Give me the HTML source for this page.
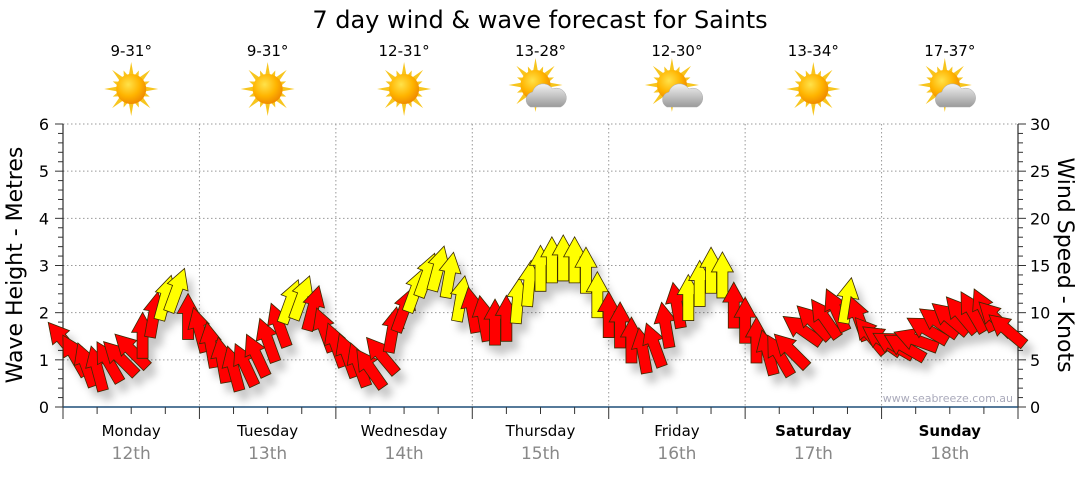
<!DOCTYPE html>
<html><head><meta charset="utf-8"><style>
body{margin:0;background:#fff;width:1080px;height:475px;overflow:hidden;font-family:"Liberation Sans","DejaVu Sans",sans-serif}
svg text{font-family:"DejaVu Sans","Liberation Sans",sans-serif}
</style></head><body>
<svg id="chart" width="1080" height="475" xmlns="http://www.w3.org/2000/svg">
<defs>
<radialGradient id="sunG" cx="40%" cy="35%" r="65%"><stop offset="0" stop-color="#ffe24a"/><stop offset="0.6" stop-color="#ffb400"/><stop offset="1" stop-color="#f08c00"/></radialGradient>
<linearGradient id="cloudG" x1="0" y1="0" x2="0" y2="1"><stop offset="0" stop-color="#f2f2f2"/><stop offset="1" stop-color="#9a9a9a"/></linearGradient>
<filter id="sh" x="-50%" y="-50%" width="200%" height="200%"><feDropShadow dx="6" dy="9" stdDeviation="4" flood-color="#000" flood-opacity="0.22"/></filter>
</defs>
<text x="540" y="28" text-anchor="middle" font-size="24" fill="#000">7 day wind &amp; wave forecast for Saints</text>
<g id="header"></g>
<g id="grid"></g>
<g id="axes"></g>
<g id="arrows" filter="url(#sh)"></g>
<text transform="translate(22,265) rotate(-90)" text-anchor="middle" font-size="22" fill="#000">Wave Height - Metres</text>
<text transform="translate(1058,265) rotate(90)" text-anchor="middle" font-size="22" fill="#000">Wind Speed - Knots</text>
<text x="1013" y="402" text-anchor="end" font-size="11" fill="#aab">www.seabreeze.com.au</text>
</svg>
<script>
const days=["Monday","Tuesday","Wednesday","Thursday","Friday","Saturday","Sunday"];
const dates=["12th","13th","14th","15th","16th","17th","18th"];
const temps=["9-31°","9-31°","12-31°","13-28°","12-30°","13-34°","17-37°"];
const cloudy=[false,false,false,true,true,false,true];
const waveTicks=[0,1,2,3,4,5,6];
const windTicks=[0,5,10,15,20,25,30];
const windSpeed=[
7.1,5.5,4.5,4.1,4.8,5.2,6.0,7.6,9.8,11.6,12.4,9.6,
8.2,6.6,5.0,4.1,4.5,5.5,7.1,8.7,11.2,11.6,10.5,8.2,
6.6,5.5,4.5,4.1,5.5,8.2,10.3,12.4,14.0,14.7,14.0,11.5,
10.3,9.4,9.0,9.4,11.3,13.1,14.7,15.6,15.8,15.6,14.5,11.9,
9.8,8.7,7.1,6.0,6.6,8.7,10.8,11.6,13.1,14.5,14.0,10.8,
9.2,7.1,5.8,5.5,6.0,8.2,9.0,9.4,10.3,11.3,9.4,7.6,
7.1,6.6,6.4,7.1,8.2,9.0,9.4,9.8,10.1,10.3,9.4,8.2];
const windDir=[
-40,-30,-20,-15,-30,-45,-45,0,10,15,20,0,
-15,-10,-10,-15,-25,-25,-20,-20,20,20,15,-20,
-20,-20,-20,-35,-40,10,20,20,20,15,10,10,
-10,-10,0,0,5,5,0,0,0,0,0,0,
0,0,0,-10,-20,-10,-10,0,0,0,0,0,
0,0,-15,-30,-45,-55,-45,-35,-25,10,-20,-40,
-55,-60,-60,-70,-60,-55,-50,-40,-30,-25,-45,-50];
const X0=63,X1=1018,Y0=407,Y1=124,NS="http://www.w3.org/2000/svg";
const dayW=(X1-X0)/7;
function xDay(d){return X0+d*dayW;}
function xPt(i){return X0+i*dayW/12;}
function yWave(m){return Y0-(m/6)*(Y0-Y1);}
function yWind(k){return Y0-(k/30)*(Y0-Y1);}
function el(tag,attrs,parent){const e=document.createElementNS(NS,tag);for(const k in attrs)e.setAttribute(k,attrs[k]);parent.appendChild(e);return e;}
const grid=document.getElementById('grid'),axes=document.getElementById('axes'),hdr=document.getElementById('header'),arr=document.getElementById('arrows');
waveTicks.forEach(m=>{if(m>0){const l=el('line',{x1:X0,x2:X1,y1:yWave(m),y2:yWave(m),stroke:'#999','stroke-dasharray':'1.5,2.5'},grid);

}});
for(let d=1;d<7;d++){const l=el('line',{x1:xDay(d),x2:xDay(d),y1:Y1,y2:Y0,stroke:'#999','stroke-dasharray':'1.5,2.5'},grid);

}
el('line',{x1:X0,x2:X0,y1:Y1,y2:Y0,stroke:'#000'},axes);
el('line',{x1:X1,x2:X1,y1:Y1,y2:Y0,stroke:'#000'},axes);
const xa=el('line',{x1:X0,x2:X1,y1:Y0,y2:Y0,stroke:'#1f4e79','stroke-width':1.5},axes);


for(let i=0;i<=30;i++){const m=i*0.2;el('line',{x1:X0-(i%5==0?8:5),x2:X0,y1:yWave(m),y2:yWave(m),stroke:'#333'},axes);}
for(let k=0;k<=30;k++){el('line',{x1:X1,x2:X1+(k%5==0?8:5),y1:yWind(k),y2:yWind(k),stroke:'#333'},axes);}
waveTicks.forEach(m=>{const t=el('text',{x:X0-14,y:yWave(m)+6,'text-anchor':'end','font-size':16},axes);t.textContent=m;

});
windTicks.forEach(k=>{const t=el('text',{x:X1+12,y:yWind(k)+6,'font-size':16},axes);t.textContent=k;

});
for(let d=0;d<=7;d++){for(let q=0;q<4;q++){if(d==7&&q>0)break;const x=xDay(d)+q*dayW/4;el('line',{x1:x,x2:x,y1:Y0,y2:Y0+(q==0?12:7),stroke:'#333'},axes);}}
days.forEach((n,d)=>{const cx=xDay(d)+dayW/2;
const t=el('text',{x:cx,y:436,'text-anchor':'middle','font-size':15,'font-weight':d>=5?'bold':'normal'},axes);t.textContent=n;


const t2=el('text',{x:cx,y:459,'text-anchor':'middle','font-size':17,fill:'#888'},axes);t2.textContent=dates[d];


const t3=el('text',{x:cx,y:56,'text-anchor':'middle','font-size':15},hdr);t3.textContent=temps[d];


const g=el('g',{},hdr);


const sx=cloudy[d]?cx-5:cx,sy=cloudy[d]?85:89;
for(let r=0;r<16;r++){const a=r*Math.PI/8,L=r%2?20:27;el('polygon',{points:`${sx+Math.cos(a)*L},${sy+Math.sin(a)*L} ${sx+Math.cos(a+0.2)*13},${sy+Math.sin(a+0.2)*13} ${sx+Math.cos(a-0.2)*13},${sy+Math.sin(a-0.2)*13}`,fill:'#f7c51e'},g);}
el('circle',{cx:sx,cy:sy,r:15,fill:'url(#sunG)'},g);
if(cloudy[d]){el('path',{d:`M${cx-10},${sy+22} a8,8 0 0,1 2,-15 a11,11 0 0,1 20,-3 a8,8 0 0,1 8,18 z`,fill:'url(#cloudG)',stroke:'#aaa','stroke-width':0.5},g);}
});
windSpeed.forEach((k,i)=>{const x=xPt(i),y=yWind(k);
const a=el('polygon',{points:'0,-23 11,-3 5.5,-3 5.5,23 -5.5,23 -5.5,-3 -11,-3',fill:k>=11?'#ffff00':'#ff0000',stroke:'#3a2a00','stroke-width':0.8,transform:`translate(${x},${y}) rotate(${windDir[i]})`},arr);

});
</script>
</body></html>
